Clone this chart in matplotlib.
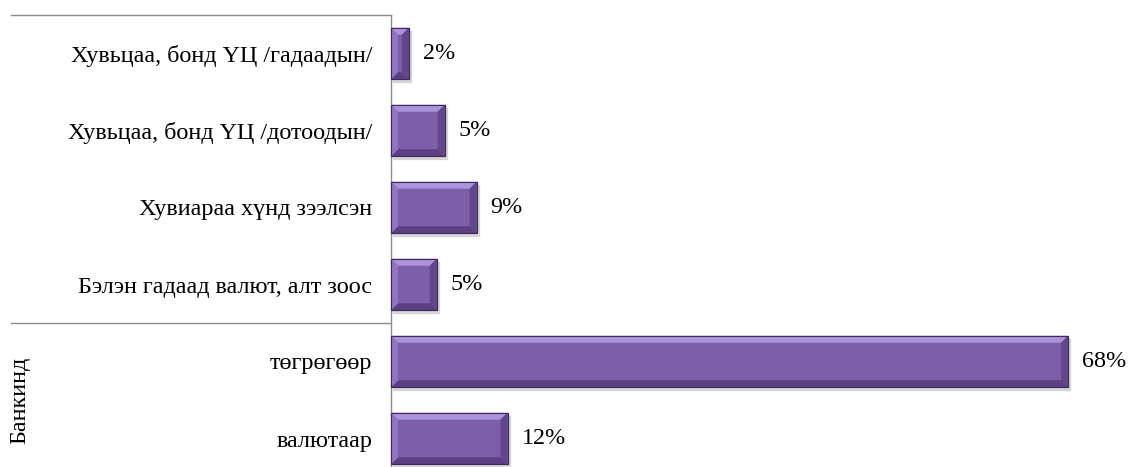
#! /usr/bin/env python3

import matplotlib
matplotlib.use("Agg")
import matplotlib.pyplot as plt
from matplotlib.patches import Polygon, Rectangle
from matplotlib.transforms import IdentityTransform, blended_transform_factory

"""
Données lues sur le graphique (en pourcentage).
"""

categories = [
    "Хувьцаа, бонд ҮЦ /гадаадын/",
    "Хувьцаа, бонд ҮЦ /дотоодын/",
    "Хувиараа хүнд зээлсэн",
    "Бэлэн гадаад валют, алт зоос",
    "төгрөгөөр",
    "валютаар",
]
values = [1.8, 5.4, 8.6, 4.6, 68.0, 11.7]
group_label = "Банкинд"

plt.rcParams["font.family"] = ["Liberation Serif", "DejaVu Serif"]
fs = 17.4

W, H = 1130, 467
fig = plt.figure(figsize=(W / 100, H / 100), dpi=100)
ax = fig.add_axes([391 / W, 1 - 477 / H, 717 / W, 462 / H])

face = "#7d5ea8"
ypos = list(range(len(categories)))
bars = ax.barh(ypos, values, height=0.67, color=face, edgecolor="#3e2a5a",
               linewidth=0.8, zorder=3)

ax.set_xlim(0, 72)
ax.set_ylim(len(categories) - 0.5, -0.5)
ax.set_yticks(ypos)
ax.set_yticklabels(categories, fontsize=fs)
ax.tick_params(axis="y", length=0, pad=13.5)
ax.set_xticks([])
for s in ["top", "right", "bottom"]:
    ax.spines[s].set_visible(False)
ax.spines["left"].set_color("#8c8c8c")
ax.spines["left"].set_linewidth(1.0)

"""
Effet biseauté des barres (calculé en pixels à partir des barres).
"""

b = 7
for bar in bars:
    (x0, y0), (x1, y1) = ax.transData.transform(
        [(bar.get_x(), bar.get_y()), (bar.get_x() + bar.get_width(),
                                      bar.get_y() + bar.get_height())])
    y0, y1 = min(y0, y1), max(y0, y1)
    ax.add_patch(Rectangle((x0 + 2, y0 - 3), x1 - x0, y1 - y0,
                           transform=IdentityTransform(), color="#c4c4c4",
                           alpha=0.6, zorder=2, clip_on=False))
    sides = [
        ([(x0, y1), (x1, y1), (x1 - b, y1 - b), (x0 + b, y1 - b)], "#ac94da"),
        ([(x0, y0), (x1, y0), (x1 - b, y0 + b), (x0 + b, y0 + b)], "#5a3f82"),
        ([(x0, y0), (x0, y1), (x0 + b, y1 - b), (x0 + b, y0 + b)], "#9175c0"),
        ([(x1, y0), (x1, y1), (x1 - b, y1 - b), (x1 - b, y0 + b)], "#62478c"),
    ]
    for pts, col in sides:
        ax.add_patch(Polygon(pts, closed=True, transform=IdentityTransform(),
                             color=col, lw=0, zorder=4, clip_on=False))
    ax.add_patch(Rectangle((x0, y0), x1 - x0, y1 - y0,
                           transform=IdentityTransform(), fill=False,
                           edgecolor="#3e2a5a", lw=0.8, zorder=5,
                           clip_on=False))

"""
Étiquettes de valeurs.
"""

for i, v in enumerate(values):
    ax.annotate(f"{v:.0f}%", (v, i), xytext=(14, 0),
                textcoords="offset pixels", va="center", ha="left",
                fontsize=fs)

"""
Axe de catégories à deux niveaux.
"""

tr = blended_transform_factory(fig.transFigure, ax.transData)
for yb in [-0.5, 3.5]:
    ax.plot([11 / W, 391 / W], [yb, yb], color="#8c8c8c", lw=1.0,
            transform=tr, clip_on=False)
ax.text(20 / W, 4.5, group_label, transform=tr, rotation=90,
        ha="center", va="center", fontsize=fs)

fig.savefig("out.png", dpi=100)
